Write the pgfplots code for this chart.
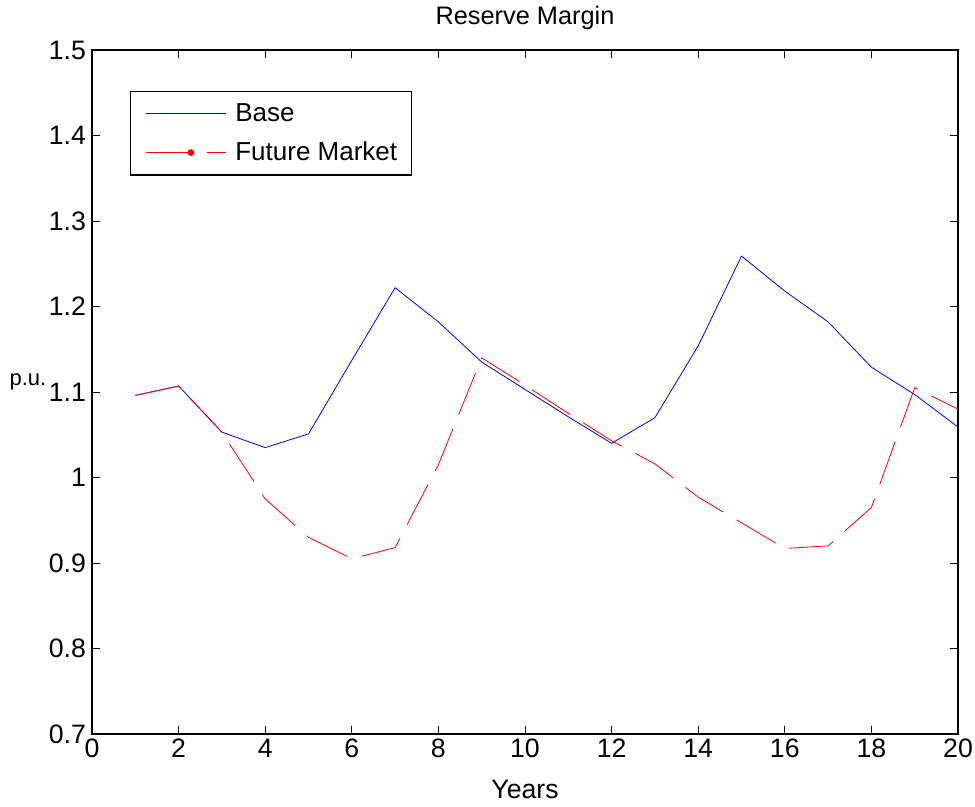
\documentclass[border=0pt]{standalone}
\usepackage{pgfplots}
\pgfplotsset{compat=1.18}
\usepackage{fontspec}
\setmainfont{Liberation Sans}
\begin{document}
\begin{tikzpicture}
\useasboundingbox (-69pt,-54.75pt) rectangle (662.25pt,550.5pt);
\begin{axis}[
  at={(0,0)}, anchor=south west,
  scale only axis,
  width=649.5pt, height=513pt,
  xmin=0, xmax=20, ymin=0.7, ymax=1.5,
  xtick={0,2,...,20},
  ytick={0.7,0.8,0.9,1.0,1.1,1.2,1.3,1.4,1.5},
  yticklabels={0.7,0.8,0.9,1,1.1,1.2,1.3,1.4,1.5},
  tick align=inside,
  major tick length=6pt,
  tick style={black, line width=0.5pt},
  axis line style={line width=0.9pt},
  every tick label/.append style={font=\fontsize{20}{23}\selectfont},
  /pgf/number format/assume math mode=true,
  yticklabel style={xshift=-1pt},
  title={Reserve Margin},
  title style={at={(0.5,1)}, anchor=base, yshift=13.5pt, font=\fontsize{19}{22}\selectfont},
  xlabel={Years},
  xlabel style={at={(axis description cs:0.5,0)}, anchor=base, yshift=-48pt, font=\fontsize{20}{23}\selectfont},
  ylabel={p.u.},
  ylabel style={at={(axis description cs:-0.074,0.51)}, rotate=-90, anchor=base, font=\fontsize{16.5}{19}\selectfont},
  legend style={at={(axis description cs:0.0439,0.940)}, anchor=north west,
    font=\fontsize{19.5}{22}\selectfont, draw=black, line width=0.8pt,
    inner xsep=8pt, inner ysep=6pt, row sep=8pt,
    nodes={inner sep=3pt}},
  legend cell align=left,
]
\addplot[blue, line width=0.6pt, legend image code/.code={\path (0pt,0pt) (67pt,0pt); \draw[blue, line width=0.7pt] (3pt,0pt) -- (63pt,0pt);}]
  coordinates {(1,1.096) (2,1.107) (3,1.053) (4,1.035) (5,1.051) (6,1.137) (7,1.222) (8,1.182) (9,1.135) (10,1.103) (11,1.071) (12,1.040) (13,1.070) (14,1.154) (15,1.259) (16,1.218) (17,1.182) (18,1.129) (19,1.097) (20,1.059)};
\addlegendentry{Base}
\addplot[red, line width=0.6pt, dash pattern=on 34pt off 11.5pt,
  legend image code/.code={\path (0pt,0pt) (67pt,0pt); \draw[red, line width=0.8pt, solid] (3pt,0pt) -- (38pt,0pt); \fill[red] (37pt,0pt) circle (2.2pt); \draw[red, line width=0.8pt, solid] (49pt,0pt) -- (63pt,0pt);}]
  coordinates {(1,1.096) (2,1.107) (3,1.053) (4,0.975) (5,0.930) (6,0.905) (7,0.918) (8,1.015) (9,1.140) (10,1.108) (11,1.075) (12,1.043) (13,1.016) (14,0.977) (15,0.947) (16,0.917) (17,0.920) (18,0.965) (19,1.105) (20,1.080)};
\addlegendentry{Future Market}
\end{axis}
\end{tikzpicture}
\end{document}
